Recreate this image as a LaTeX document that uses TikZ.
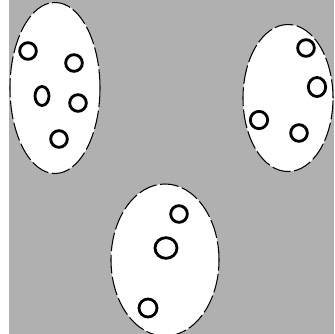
\documentclass[tikz,border=0pt]{standalone}
\usetikzlibrary{shapes.geometric}
\definecolor{bgGray}{HTML}{B0B0B0}
\tikzset{
  cluster/.style={draw=black, fill=white, ellipse, inner sep=0pt,
    line width=0.9pt, dash pattern=on 16pt off 3pt},
  dot/.style={draw=black, circle, inner sep=0pt, line width=2.4pt,
    minimum size=0.5cm},
  ovaldot/.style={draw=black, ellipse, inner sep=0pt, line width=2.4pt},
}
\begin{document}
\begin{tikzpicture}[x=0.03cm, y=-0.03cm]

  % === Background ===
  \useasboundingbox (0,0) rectangle (334,334);
  \fill[bgGray] (9,0) rectangle (334,334);

  % === Clusters ===
  \begin{scope}
    \clip (9,0) rectangle (334,334);
    \node[cluster, minimum width=2.7cm, minimum height=5.13cm] (clA) at (55,88) {};
    \node[cluster, minimum width=2.7cm, minimum height=4.41cm] (clB) at (288,98) {};
    \node[cluster, minimum width=3.24cm, minimum height=4.56cm] (clC) at (165,260) {};
  \end{scope}

  % === Points in cluster A ===
  \node[dot] (a1) at (28,51) {};
  \node[dot] (a2) at (74,63) {};
  \node[ovaldot, minimum width=0.42cm, minimum height=0.57cm] (a3) at (42,96) {};
  \node[dot] (a4) at (78,103) {};
  \node[dot] (a5) at (59,139) {};

  % === Points in cluster B ===
  \node[dot] (b1) at (306,48) {};
  \node[ovaldot, minimum width=0.52cm, minimum height=0.57cm] (b2) at (317,87) {};
  \node[dot, minimum size=0.52cm] (b3) at (259,120) {};
  \node[dot] (b4) at (299,133) {};

  % === Points in cluster C ===
  \node[dot] (c1) at (179,214) {};
  \node[ovaldot, minimum width=0.66cm, minimum height=0.62cm] (c2) at (166,248) {};
  \node[dot, minimum size=0.54cm] (c3) at (148,308) {};

\end{tikzpicture}
\end{document}
